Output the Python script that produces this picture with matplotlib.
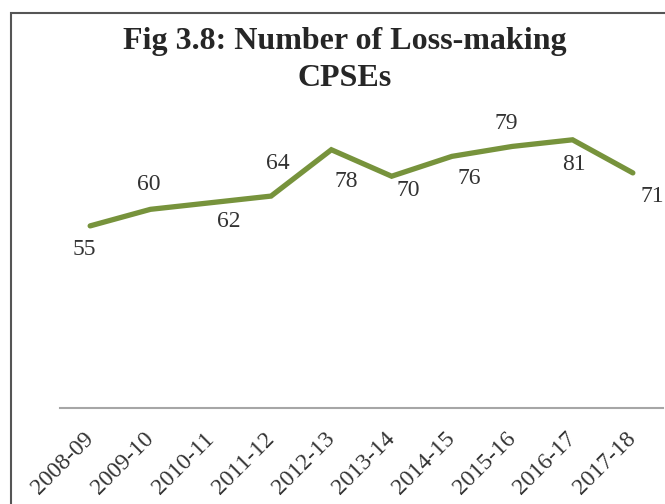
import matplotlib
matplotlib.use("Agg")
import matplotlib.pyplot as plt
from matplotlib.patches import Rectangle

years = ["2008-09", "2009-10", "2010-11", "2011-12", "2012-13",
         "2013-14", "2014-15", "2015-16", "2016-17", "2017-18"]
loss_making = [55, 60, 62, 64, 78, 70, 76, 79, 81, 71]
# label offsets in pixels (dx, dy; y up)
label_offsets = [(-6, -24), (-2, 25), (18, -19), (7, 33), (15, -32),
                 (17, -14), (17, -22), (-6, 23), (1, -25), (19, -24)]

W, H = 665, 504
fig = plt.figure(figsize=(W / 100, H / 100), dpi=100)
fig.patch.set_facecolor("white")

# outer frame (cropped on right and bottom)
fig.patches.append(Rectangle((11 / W, -0.1), 1.2, (H - 13) / H + 0.1,
                             transform=fig.transFigure, fill=False,
                             edgecolor="#555555", linewidth=1.5))

ax = fig.add_axes([60 / W, 96 / H, (663 - 60) / W, 298 / H])
x = list(range(len(years)))
ax.plot(x, loss_making, color="#77933C", linewidth=3.8, solid_capstyle="round",
        solid_joinstyle="miter")
ax.set_xlim(-0.5, 9.5)
ax.set_ylim(0, 90)

for xi, v, (dx, dy) in zip(x, loss_making, label_offsets):
    ax.annotate(str(v), (xi, v), xytext=(dx, dy), textcoords="offset pixels",
                ha="center", va="center", fontsize=17,
                family="Liberation Serif", color="#333333")

for s in ["top", "right", "left"]:
    ax.spines[s].set_visible(False)
ax.spines["bottom"].set_color("#A6A6A6")
ax.spines["bottom"].set_linewidth(1.5)
ax.set_yticks([])
ax.set_xticks(x)
ax.set_xticklabels(years, rotation=45, ha="right", va="center",
                   rotation_mode="anchor", fontsize=17,
                   family="Liberation Serif", color="#333333")
ax.tick_params(axis="x", length=0, pad=20)

fig.text(345 / W, 1 - 42 / H, "Fig 3.8: Number of Loss-making", ha="center",
         va="center", fontsize=23, fontweight="bold",
         family="Liberation Serif", color="#262626")
fig.text(345 / W, 1 - 78 / H, "CPSEs", ha="center",
         va="center", fontsize=23, fontweight="bold",
         family="Liberation Serif", color="#262626")

fig.savefig("out.png", dpi=100)
